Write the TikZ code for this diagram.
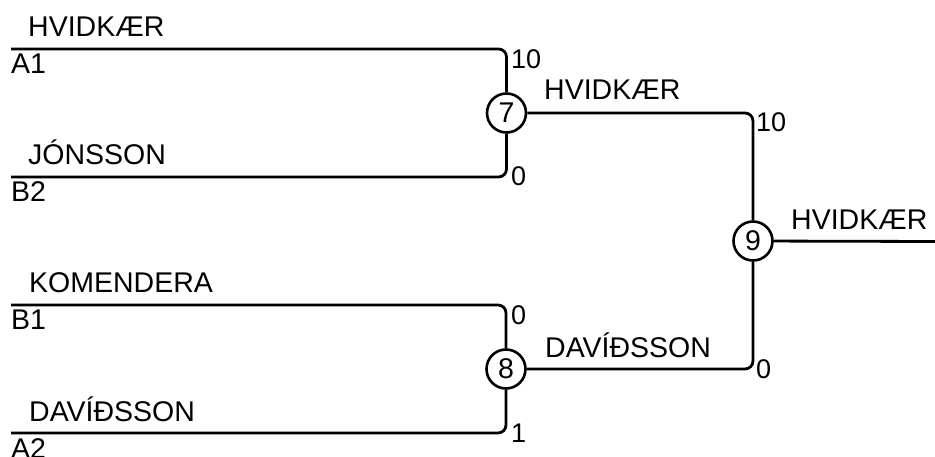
\documentclass[tikz,border=0pt]{standalone}
\usepackage{fontspec}
\setmainfont{Liberation Sans}
\begin{document}
\begin{tikzpicture}[x=1pt,y=-1pt,
  every node/.style={font=\fontsize{28.5}{30}\selectfont, inner sep=0pt},
  wire/.style={line width=2.8pt, rounded corners=8pt},
  match/.style={draw, circle, line width=2.6pt, minimum size=39pt, inner sep=0pt},
  lbl/.style={anchor=base west},
  score/.style={anchor=base west, font=\fontsize{27}{29}\selectfont}]
\useasboundingbox (0,0) rectangle (935,457);
% match nodes
\node[match] (c7) at (506.5,113) {7};
\node[match] (c8) at (506,369) {8};
\node[match] (c9) at (753,241) {9};
% starts
\coordinate (a1) at (11,49);
\coordinate (b2) at (11,177);
\coordinate (b1) at (11,305);
\coordinate (a2) at (11,433);
\coordinate (fin) at (935,241.5);
% wires
\draw[wire] (a1) -| (c7);
\draw[wire] (b2) -| (c7);
\draw[wire] (b1) -| (c8);
\draw[wire] (a2) -| (c8);
\draw[wire] (c7) -| (c9);
\draw[wire] (c8) -| (c9);
\draw[wire] (c9) -- (fin);
% player names
\node[lbl] (n1) at (28,37) {HVIDKÆR};
\node[lbl] (n2) at (28,165) {JÓNSSON};
\node[lbl] (n3) at (29,293) {KOMENDERA};
\node[lbl] (n4) at (29,421) {DAVÍÐSSON};
\node[lbl] (s1) at (11,74) {A1};
\node[lbl] (s2) at (11,202) {B2};
\node[lbl] (s3) at (11,330) {B1};
\node[lbl] (s4) at (11,458) {A2};
% winners
\node[lbl] (w7) at (544,100) {HVIDKÆR};
\node[lbl] (w8) at (545,357) {DAVÍÐSSON};
\node[lbl] (w9) at (791,230) {HVIDKÆR};
% scores
\node[score] (p1) at (511,68.5) {10};
\node[score] (p2) at (511,186) {0};
\node[score] (p3) at (511,324.5) {0};
\node[score] (p4) at (511,442) {1};
\node[score] (p5) at (756,132) {10};
\node[score] (p6) at (756,378) {0};
\end{tikzpicture}
\end{document}
